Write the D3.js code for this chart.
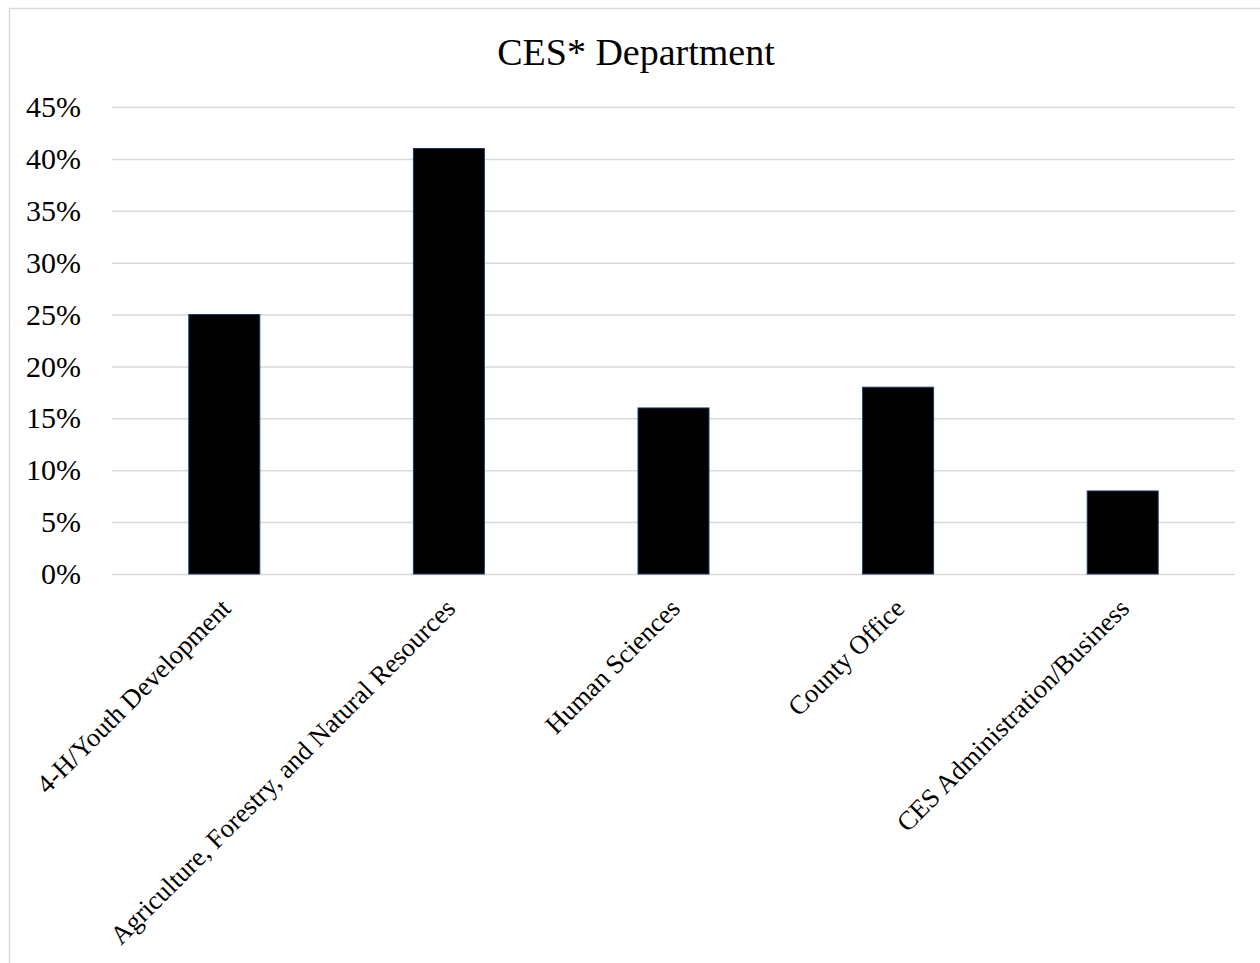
<!DOCTYPE html>
<html>
<head>
<meta charset="utf-8">
<script src="https://cdn.jsdelivr.net/npm/d3@7"></script>
<style>
  html, body { margin: 0; padding: 0; background: #fff; }
  svg { display: block; }
  text { font-family: "Liberation Serif", "Times New Roman", serif; fill: #000; }
</style>
</head>
<body>
<svg id="chart" width="1260" height="963"></svg>
<script>
// Share of respondents by CES department
const categories = [
  "4-H/Youth Development",
  "Agriculture, Forestry, and Natural Resources",
  "Human Sciences",
  "County Office",
  "CES Administration/Business"
];
const values = [25, 41, 16, 18, 8];
const yTicks = [0, 5, 10, 15, 20, 25, 30, 35, 40, 45];
const title = "CES* Department";

const serif = "'Liberation Serif', 'Times New Roman', serif";
const svg = d3.select("#chart");

// chart frame
svg.append("rect")
  .attr("x", 9.5).attr("y", 8.5)
  .attr("width", 1400).attr("height", 1100)
  .attr("fill", "#fff")
  .attr("stroke", "#d9d9d9")
  .attr("stroke-width", 1.5);

const plot = { left: 112, right: 1235, top: 107, bottom: 574 };

const x = d3.scaleBand()
  .domain(categories)
  .range([plot.left, plot.right])
  .paddingInner(0.684)
  .paddingOuter(0.342);

const y = d3.scaleLinear()
  .domain([0, 45])
  .range([plot.bottom, plot.top]);

// title
svg.append("text")
  .attr("x", 636)
  .attr("y", 65)
  .attr("text-anchor", "middle")
  .style("font-family", serif)
  .style("font-size", "38px")
  .text(title);

// horizontal gridlines
const grid = d3.axisLeft(y)
  .tickValues(yTicks)
  .tickSize(-(plot.right - plot.left))
  .tickFormat("");
const gridG = svg.append("g")
  .attr("transform", `translate(${plot.left},0)`)
  .call(grid);
gridG.select(".domain").remove();
gridG.selectAll(".tick line")
  .attr("stroke", "#d9d9d9")
  .attr("stroke-width", 1.5);

// y axis labels
const yAxis = d3.axisLeft(y)
  .tickValues(yTicks)
  .tickSize(0)
  .tickPadding(0)
  .tickFormat(d => d + "%");
const yG = svg.append("g")
  .attr("transform", `translate(81,0)`)
  .call(yAxis)
  .attr("font-family", serif)
  .attr("font-size", 30);
yG.select(".domain").remove();
yG.selectAll(".tick text")
  .style("font-family", serif)
  .style("font-size", "30px")
  .attr("fill", "#000");

// bars
svg.append("g")
  .selectAll("rect")
  .data(values)
  .join("rect")
  .attr("x", (d, i) => x(categories[i]))
  .attr("y", d => y(d))
  .attr("width", x.bandwidth())
  .attr("height", d => y(0) - y(d))
  .attr("fill", "#000")
  .attr("stroke", "#1f3864")
  .attr("stroke-width", 1);

// category labels, rotated
const xAxis = d3.axisBottom(x).tickSize(0).tickPadding(0);
const xG = svg.append("g")
  .attr("transform", `translate(0,${plot.bottom})`)
  .call(xAxis)
  .attr("font-family", serif)
  .attr("font-size", 26.5);
xG.select(".domain").remove();
xG.selectAll(".tick text")
  .style("font-family", serif)
  .style("font-size", "26.5px")
  .attr("fill", "#000")
  .attr("text-anchor", "end")
  .attr("dy", null)
  .attr("y", 0)
  .attr("transform", "translate(8,36) rotate(-45)");
</script>
</body>
</html>
